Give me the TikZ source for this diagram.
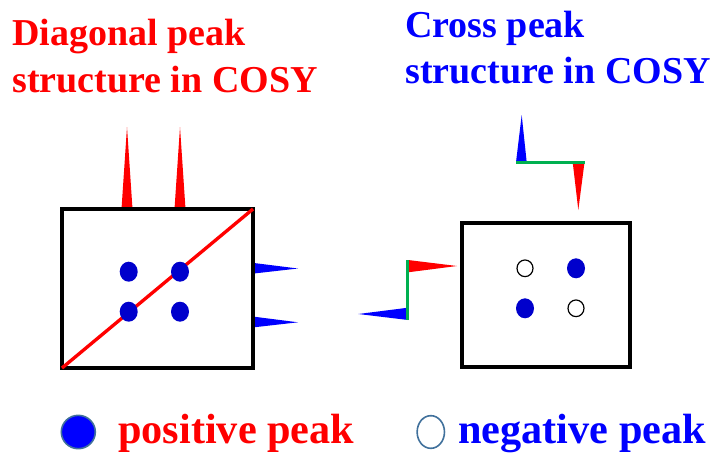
\documentclass[tikz,border=0pt]{standalone}
\usepackage{fontspec}
\setmainfont{Liberation Serif}
\usetikzlibrary{shapes.geometric}

\definecolor{dotblue}{RGB}{0,0,204}
\definecolor{flaggreen}{RGB}{0,176,80}
\definecolor{rimblue}{RGB}{65,113,156}

\begin{document}
\begin{tikzpicture}[
    x=0.75pt, y=-0.75pt,
    spec/.style   = {draw=black, line width=2.6pt},
    diag/.style   = {draw=red, line width=2.5pt},
    posdot/.style = {ellipse, fill=dotblue, inner sep=0pt,
                     minimum width=13.5pt, minimum height=15pt},
    negdot/.style = {ellipse, draw=black, fill=white, line width=0.9pt,
                     inner sep=0pt, minimum width=12pt, minimum height=12.5pt},
    title/.style  = {font=\bfseries\fontsize{28.5}{35}\selectfont,
                     align=left, inner sep=0pt, anchor=base west},
    key/.style    = {font=\bfseries\fontsize{31.7}{38}\selectfont,
                     inner sep=0pt, anchor=base west},
    rpk/.style    = {fill=red},
    bpk/.style    = {fill=blue},
    link/.style   = {draw=flaggreen, line width=2pt},
  ]
  \useasboundingbox (0,0) rectangle (716,453);
  % titles (anchored at the baseline of the second line)
  \node[title, text=red]  (tdiag)  at (12,92.3) {Diagonal peak\\structure in COSY};
  \node[title, text=blue] (tcross) at (405,84) {Cross peak\\structure in COSY};
  % diagonal spectrum
  \coordinate (dsw) at (62,368);
  \coordinate (dne) at (253,209);
  \foreach \x in {127,180}{\fill[rpk] (\x-5.5,209) -- (\x+5.5,209) -- (\x,127) -- cycle;}
  \fill[bpk] (254,263) -- (254,273.5) -- (298,268.5) -- cycle;
  \fill[bpk] (254,316.7) -- (254,327.3) -- (298,322.3) -- cycle;
  \draw[spec] (dsw) rectangle (dne);
  \draw[diag] (dsw) -- (dne);
  \node[posdot] (d11) at (128.7,271.7) {};
  \node[posdot] (d12) at (180,271.7) {};
  \node[posdot] (d21) at (128.7,311.7) {};
  \node[posdot] (d22) at (180,311.7) {};
  % cross spectrum
  \coordinate (csw) at (462,367);
  \coordinate (cne) at (630,223);
  \draw[spec] (csw) rectangle (cne);
  \node[negdot] (c11) at (525,268.3) {};
  \node[posdot] (c12) at (576,268.3) {};
  \node[posdot] (c21) at (525,308.3) {};
  \node[negdot] (c22) at (576,308.3) {};
  % antiphase multiplets
  \coordinate (fl1) at (407.5,260);
  \coordinate (fl2) at (407.5,320);
  \fill[rpk] (408,260) -- (408,272.3) -- (457,266) -- cycle;
  \fill[bpk] (408,307.7) -- (408,320) -- (358.3,314) -- cycle;
  \draw[link] (fl1) -- (fl2);
  \coordinate (ft1) at (516,162.3);
  \coordinate (ft2) at (584.5,162.3);
  \fill[bpk] (516,162.3) -- (526.7,162.3) -- (521.7,115) -- cycle;
  \fill[rpk] (572.7,162.3) -- (584.5,162.3) -- (578.3,210) -- cycle;
  \draw[link] (ft1) -- (ft2);
  % legend
  \node[ellipse, fill=blue, draw=rimblue, line width=1.2pt, inner sep=0pt,
        minimum width=25.5pt, minimum height=25pt] (kpos) at (78.3,432) {};
  \node[key, text=red] (lpos) at (118,443) {positive peak};
  \node[ellipse, fill=white, draw=rimblue, line width=1.2pt, inner sep=0pt,
        minimum width=20.5pt, minimum height=24.5pt] (kneg) at (430.8,432) {};
  \node[key, text=blue] (lneg) at (458,443) {negative peak};
\end{tikzpicture}
\end{document}
